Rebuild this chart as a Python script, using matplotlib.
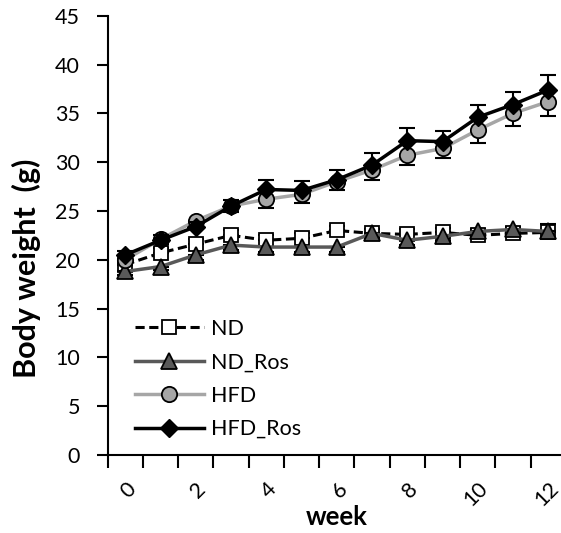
import matplotlib
matplotlib.use("Agg")
import matplotlib.pyplot as plt

plt.rcParams['font.family'] = ['Lato', 'DejaVu Sans']

weeks = list(range(13))
tick_labels = ['0', '2', '4', '6', '8', '10', '12']

nd = [19.5, 20.7, 21.6, 22.5, 22.0, 22.2, 23.0, 22.7, 22.6, 22.8, 22.5, 22.7, 22.8]
nd_err = [0.4, 0.5, 0.5, 0.5, 0.5, 0.5, 0.5, 0.5, 0.5, 0.5, 0.6, 0.7, 0.9]
nd_ros = [18.8, 19.3, 20.5, 21.5, 21.3, 21.3, 21.3, 22.7, 22.0, 22.4, 22.9, 23.1, 22.9]
nd_ros_err = [0.4, 0.4, 0.5, 0.5, 0.5, 0.5, 0.5, 0.5, 0.5, 0.5, 0.6, 0.6, 0.7]
hfd = [20.0, 22.1, 24.0, 25.5, 26.2, 26.7, 28.0, 29.2, 30.7, 31.4, 33.3, 35.0, 36.2]
hfd_err = [0.4, 0.5, 0.5, 0.6, 0.9, 0.9, 0.9, 1.0, 1.0, 1.0, 1.3, 1.3, 1.5]
hfd_ros = [20.5, 22.0, 23.4, 25.5, 27.2, 27.1, 28.2, 29.7, 32.2, 32.1, 34.6, 35.9, 37.4]
hfd_ros_err = [0.4, 0.5, 0.5, 0.6, 1.0, 1.0, 1.0, 1.2, 1.3, 1.1, 1.3, 1.3, 1.5]

W, H = 561, 533
fig = plt.figure(figsize=(W / 100, H / 100), dpi=100)
ax = fig.add_axes([107.7 / W, (H - 455) / H, 458.25 / W, (455 - 15.7) / H])

eb = dict(fmt='none', ecolor='black', elinewidth=1.5, capsize=6, capthick=1.5)
ax.errorbar(weeks, nd, yerr=[[0] * 13, nd_err], zorder=2, **eb)
ax.plot(weeks, nd, color='black', lw=2.2, ls=(0, (3, 1.5)), marker='s', ms=10,
        mfc='white', mec='black', mew=1.3, label='ND', zorder=3)
ax.errorbar(weeks, nd_ros, yerr=[nd_ros_err, [0] * 13], zorder=4, **eb)
ax.plot(weeks, nd_ros, color='#595959', lw=2.5, marker='^', ms=11,
        mfc='#595959', mec='black', mew=1.3, label='ND_Ros', zorder=5)
ax.errorbar(weeks, hfd, yerr=[hfd_err, [0] * 13], zorder=6, **eb)
ax.plot(weeks, hfd, color='#a6a6a6', lw=2.5, marker='o', ms=11,
        mfc='#a6a6a6', mec='black', mew=1.3, label='HFD', zorder=7)
ax.errorbar(weeks, hfd_ros, yerr=[[0] * 13, hfd_ros_err], zorder=8, **eb)
ax.plot(weeks, hfd_ros, color='black', lw=2.5, marker='D', ms=9,
        mfc='black', mec='black', mew=1.0, label='HFD_Ros', zorder=9)

ax.set_xlim(-0.5, 12.5)
ax.set_ylim(0, 45)
ax.set_yticks(range(0, 46, 5))
ax.set_xticks([i - 0.5 for i in range(14)])
ax.set_xticklabels([])
ax.set_xticks(weeks[::2], minor=True)
ax.set_xticklabels(tick_labels, minor=True, rotation=45, ha='right', va='top',
                   rotation_mode='anchor', fontsize=15.5)
ax.tick_params(axis='x', which='minor', length=0, pad=17)
ax.tick_params(axis='x', which='major', direction='out', length=9, width=1.5)
ax.tick_params(axis='y', direction='out', length=8, width=1.5, labelsize=15.5, pad=12)
for s in ['top', 'right']:
    ax.spines[s].set_visible(False)
for s in ['left', 'bottom']:
    ax.spines[s].set_linewidth(1.5)

fig.text(337 / W, 1 - 517 / H, 'week', ha='center', va='center',
         fontsize=18.5, fontweight='bold')
fig.text(26 / W, 1 - 268 / H, 'Body weight  (g)', ha='center', va='center',
         rotation=90, fontsize=22, fontweight='bold')

leg = ax.legend(loc='upper left', bbox_to_anchor=(135 / W, 1 - 319 / H),
                bbox_transform=fig.transFigure, frameon=False, fontsize=15.5,
                handlelength=3.2, handletextpad=0.35, labelspacing=0.62,
                borderpad=0, borderaxespad=0)

fig.savefig('out.png', dpi=100)
